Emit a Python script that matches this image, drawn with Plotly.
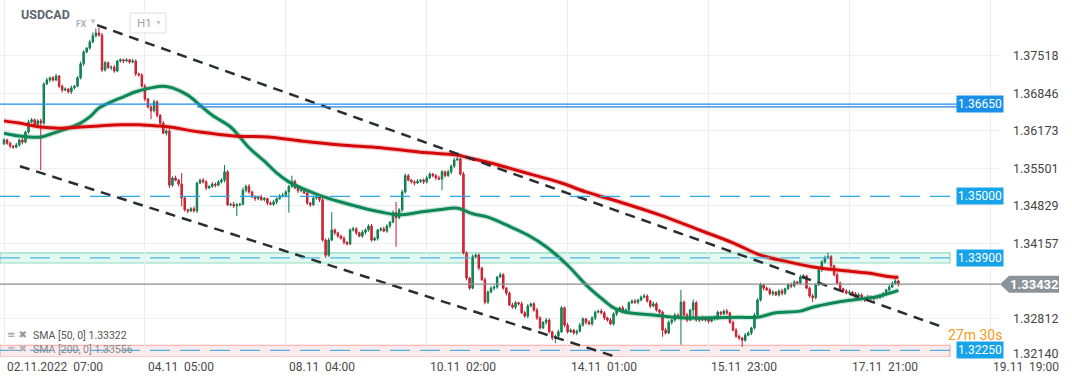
import plotly.graph_objects as go

# ---------------- data ----------------
symbol = "USDCAD"
market = "FX"
timeframe = "H1"

first_open = 1.3594
closes = [
    1.3601, 1.3595, 1.3590, 1.3588, 1.3592, 1.3601, 1.3597, 1.3615, 1.3633, 1.3637,
    1.3628, 1.3635, 1.3631, 1.3701, 1.3708, 1.3712, 1.3708, 1.3715, 1.3697, 1.3690,
    1.3692, 1.3687, 1.3694, 1.3697, 1.3712, 1.3737, 1.3758, 1.3765, 1.3776, 1.3787,
    1.3792, 1.3788, 1.3726, 1.3739, 1.3730, 1.3731, 1.3724, 1.3742, 1.3744, 1.3742,
    1.3744, 1.3740, 1.3742, 1.3719, 1.3717, 1.3697, 1.3674, 1.3660, 1.3653, 1.3669,
    1.3645, 1.3631, 1.3613, 1.3617, 1.3520, 1.3533, 1.3529, 1.3522, 1.3497, 1.3476,
    1.3474, 1.3478, 1.3474, 1.3524, 1.3529, 1.3526, 1.3515, 1.3518, 1.3522, 1.3520,
    1.3526, 1.3529, 1.3544, 1.3485, 1.3486, 1.3483, 1.3485, 1.3486, 1.3511, 1.3518,
    1.3508, 1.3499, 1.3496, 1.3499, 1.3494, 1.3496, 1.3488, 1.3486, 1.3490, 1.3496,
    1.3501, 1.3502, 1.3508, 1.3518, 1.3527, 1.3515, 1.3510, 1.3511, 1.3506, 1.3488,
    1.3485, 1.3497, 1.3499, 1.3494, 1.3422, 1.3395, 1.3422, 1.3440, 1.3435, 1.3429,
    1.3425, 1.3418, 1.3415, 1.3440, 1.3442, 1.3435, 1.3429, 1.3436, 1.3440, 1.3447,
    1.3422, 1.3425, 1.3440, 1.3442, 1.3438, 1.3447, 1.3454, 1.3471, 1.3462, 1.3476,
    1.3508, 1.3537, 1.3529, 1.3526, 1.3524, 1.3527, 1.3529, 1.3526, 1.3533, 1.3540,
    1.3537, 1.3533, 1.3531, 1.3544, 1.3537, 1.3544, 1.3554, 1.3565, 1.3567, 1.3540,
    1.3399, 1.3354, 1.3336, 1.3392, 1.3395, 1.3372, 1.3351, 1.3311, 1.3329, 1.3336,
    1.3338, 1.3356, 1.3360, 1.3336, 1.3327, 1.3306, 1.3302, 1.3310, 1.3308, 1.3292,
    1.3286, 1.3304, 1.3308, 1.3297, 1.3283, 1.3265, 1.3275, 1.3279, 1.3258, 1.3247,
    1.3250, 1.3258, 1.3301, 1.3270, 1.3258, 1.3261, 1.3256, 1.3259, 1.3270, 1.3281,
    1.3275, 1.3272, 1.3283, 1.3293, 1.3295, 1.3292, 1.3283, 1.3279, 1.3272, 1.3290,
    1.3297, 1.3301, 1.3293, 1.3297, 1.3310, 1.3313, 1.3311, 1.3315, 1.3320, 1.3322,
    1.3313, 1.3304, 1.3308, 1.3297, 1.3293, 1.3261, 1.3256, 1.3275, 1.3279, 1.3288,
    1.3283, 1.3311, 1.3288, 1.3279, 1.3297, 1.3310, 1.3279, 1.3283, 1.3279, 1.3283,
    1.3277, 1.3281, 1.3283, 1.3293, 1.3290, 1.3295, 1.3292, 1.3275, 1.3261, 1.3250,
    1.3247, 1.3243, 1.3252, 1.3256, 1.3265, 1.3288, 1.3315, 1.3342, 1.3336, 1.3333,
    1.3326, 1.3329, 1.3324, 1.3331, 1.3327, 1.3335, 1.3342, 1.3340, 1.3347, 1.3345,
    1.3356, 1.3358, 1.3336, 1.3322, 1.3319, 1.3342, 1.3369, 1.3383, 1.3390, 1.3392,
    1.3376, 1.3360, 1.3345, 1.3335, 1.3331, 1.3327, 1.3329, 1.3326, 1.3322, 1.3324,
    1.3319, 1.3315, 1.3320, 1.3317, 1.3320, 1.3319, 1.3322, 1.3326, 1.3333, 1.3338,
    1.3345, 1.3349, 1.3343,
]

# wick lengths beyond the candle body, in pips
wick_up_pips = [
    3, 2, 3, 2, 4, 2, 3, 2, 4, 3,
    2, 3, 4, 3, 4, 2, 3, 4, 2, 3,
    3, 2, 4, 2, 3, 4, 3, 2, 4, 6,
    8, 10, 4, 3, 2, 3, 4, 2, 3, 2,
    3, 2, 4, 3, 2, 3, 4, 2, 3, 4,
    3, 2, 4, 3, 5, 3, 4, 2, 20, 3,
    2, 3, 4, 2, 3, 4, 3, 2, 4, 3,
    3, 4, 12, 3, 2, 4, 3, 2, 5, 3,
    4, 2, 3, 2, 4, 3, 2, 3, 4, 2,
    3, 4, 3, 2, 10, 3, 4, 2, 3, 4,
    2, 3, 4, 3, 5, 3, 4, 32, 3, 2,
    3, 4, 2, 3, 4, 3, 2, 4, 3, 3,
    4, 3, 2, 3, 4, 3, 2, 4, 19, 3,
    4, 4, 3, 2, 3, 4, 2, 3, 4, 3,
    2, 3, 4, 3, 2, 4, 3, 4, 7, 3,
    4, 3, 2, 4, 3, 3, 2, 4, 3, 4,
    3, 2, 4, 3, 2, 3, 4, 3, 2, 4,
    3, 4, 2, 3, 4, 3, 2, 4, 3, 2,
    3, 4, 3, 2, 4, 3, 2, 3, 4, 3,
    2, 4, 3, 3, 2, 4, 3, 2, 4, 3,
    3, 2, 4, 3, 2, 3, 4, 2, 3, 4,
    3, 2, 4, 3, 2, 3, 4, 3, 2, 4,
    3, 22, 3, 4, 2, 6, 3, 2, 4, 3,
    2, 3, 4, 3, 2, 3, 4, 2, 3, 4,
    3, 2, 4, 3, 2, 4, 3, 4, 2, 3,
    4, 3, 2, 3, 4, 2, 3, 4, 3, 2,
    4, 3, 2, 3, 4, 3, 4, 3, 4, 7,
    3, 2, 4, 3, 2, 3, 4, 2, 3, 4,
    3, 2, 4, 3, 2, 3, 4, 3, 2, 4,
    3, 4, 2,
]
wick_dn_pips = [
    2, 3, 4, 3, 2, 3, 4, 2, 3, 2,
    3, 4, 84, 3, 2, 4, 3, 2, 3, 4,
    2, 3, 4, 3, 2, 3, 4, 2, 3, 2,
    3, 2, 4, 3, 2, 4, 3, 2, 3, 4,
    2, 3, 2, 4, 3, 2, 4, 3, 15, 3,
    4, 3, 2, 4, 5, 3, 2, 4, 15, 3,
    4, 2, 3, 4, 2, 3, 4, 2, 3, 4,
    2, 3, 4, 2, 3, 4, 18, 3, 2, 4,
    3, 2, 4, 3, 2, 3, 4, 2, 3, 4,
    2, 3, 4, 37, 3, 2, 4, 3, 2, 3,
    4, 2, 3, 4, 3, 5, 3, 2, 4, 3,
    2, 4, 3, 2, 3, 4, 2, 3, 4, 3,
    3, 2, 4, 3, 2, 3, 4, 2, 52, 3,
    4, 3, 2, 3, 4, 2, 3, 4, 3, 2,
    3, 4, 2, 20, 3, 2, 4, 3, 2, 3,
    3, 4, 3, 2, 3, 4, 2, 4, 3, 2,
    4, 3, 2, 3, 4, 2, 3, 4, 3, 2,
    3, 4, 2, 3, 4, 3, 2, 4, 3, 4,
    9, 3, 2, 4, 3, 2, 3, 4, 2, 3,
    4, 2, 3, 4, 2, 3, 4, 3, 2, 3,
    4, 3, 2, 3, 4, 2, 3, 4, 3, 2,
    3, 4, 2, 3, 4, 12, 3, 2, 4, 3,
    2, 48, 3, 4, 2, 15, 3, 4, 2, 3,
    4, 2, 3, 4, 3, 2, 4, 3, 2, 3,
    4, 12, 3, 2, 4, 3, 2, 3, 4, 2,
    3, 4, 2, 3, 4, 3, 2, 4, 3, 2,
    3, 4, 2, 3, 8, 3, 2, 4, 3, 2,
    4, 3, 2, 3, 4, 2, 3, 4, 3, 2,
    3, 4, 2, 3, 4, 3, 2, 3, 4, 3,
    2, 3, 4,
]
pip = 0.0001

# moving averages (bar index, value)
sma50_idx = [0, 5, 12, 15, 21, 25, 28, 31, 35, 39, 43, 48, 52, 55, 60, 64, 68, 74, 77, 80,
             85, 89, 93, 98, 103, 110, 116, 123, 129, 136, 142, 148, 153, 158, 164, 171,
             177, 184, 190, 195, 199, 203, 212, 221, 231, 240, 246, 252, 260, 264, 271,
             277, 284, 289, 292]
sma50_val = [1.3613, 1.3608, 1.3606, 1.3611, 1.3622, 1.3631, 1.3642, 1.3658, 1.3669, 1.3678,
             1.3687, 1.3694, 1.3697, 1.3694, 1.3681, 1.3663, 1.3645, 1.3624, 1.3606, 1.3587,
             1.3563, 1.3542, 1.3526, 1.3513, 1.3502, 1.3490, 1.3481, 1.3472, 1.3467, 1.3472,
             1.3476, 1.3479, 1.3469, 1.3463, 1.3449, 1.3431, 1.3410, 1.3377, 1.3342, 1.3318,
             1.3301, 1.3293, 1.3288, 1.3283, 1.3283, 1.3284, 1.3284, 1.3292, 1.3295, 1.3302,
             1.3310, 1.3315, 1.3320, 1.3327, 1.33322]
sma200_idx = [0, 5, 12, 18, 25, 31, 38, 44, 50, 54, 64, 75, 86, 97, 110, 123, 136, 148, 151,
              158, 164, 173, 182, 190, 201, 214, 227, 238, 247, 256, 264, 273, 282, 290, 292]
sma200_val = [1.3635, 1.3631, 1.3624, 1.3622, 1.3624, 1.3626, 1.3628, 1.3628, 1.3626, 1.3624,
              1.3615, 1.3608, 1.3606, 1.3599, 1.3592, 1.3587, 1.3579, 1.3574, 1.3570, 1.3561,
              1.3552, 1.3538, 1.3524, 1.3508, 1.3490, 1.3467, 1.3440, 1.3417, 1.3395, 1.3383,
              1.3374, 1.3368, 1.3363, 1.3356, 1.33556]

# drawn channel lines (bar index, price)
upper_channel_idx = [30.4, 307.2]
upper_channel_val = [1.3806, 1.3265]
lower_channel_idx = [5.2, 201.1]
lower_channel_val = [1.3554, 1.3211]

# time axis
time_tick_idx = [0, 46, 92, 138, 184, 230, 276, 322]
time_tick_text = ["02.11.2022  07:00", "04.11  05:00", "08.11  04:00", "10.11  02:00",
                  "14.11  01:00", "15.11  23:00", "17.11  21:00", "19.11  19:00"]

# price axis
price_tick_vals = [1.37518, 1.36846, 1.36173, 1.35501, 1.34829, 1.34157, 1.32812, 1.32140]

# horizontal levels
level_main = 1.36650
level_main_2 = 1.36600
level_1350 = 1.35000
level_1339 = 1.33900
band_1339 = [1.3381, 1.3399]
level_13225 = 1.32250
band_13225 = [1.3213, 1.3234]
last_price = 1.33432
sma50_last = 1.33322
sma200_last = 1.33556
countdown = "27m 30s"

# ---------------- figure ----------------
Y_MIN, Y_MAX = 1.3213, 1.3851
X_MIN, X_MAX = -1.306, 325.17
PLOT_W, PLOT_H = 1000, 357

n = len(closes)
idx = list(range(n))
opens = [first_open] + closes[:-1]
highs = [max(o, c) + u * pip for o, c, u in zip(opens, closes, wick_up_pips)]
lows = [min(o, c) - d * pip for o, c, d in zip(opens, closes, wick_dn_pips)]

FONT = "Roboto, 'Open Sans', Arial, sans-serif"


def px_x(p):
    return p / PLOT_W


def px_y(p):
    return (PLOT_H - p) / PLOT_H


def val_y(v):
    return (v - Y_MIN) / (Y_MAX - Y_MIN)


fig = go.Figure()

fig.add_trace(go.Candlestick(
    x=idx, open=opens, high=highs, low=lows, close=closes,
    increasing=dict(line=dict(color="#0b7a4a", width=1), fillcolor="#17985f"),
    decreasing=dict(line=dict(color="#c41d2e", width=1), fillcolor="#e3303f"),
    whiskerwidth=0, hoverinfo="skip", showlegend=False,
))

# SMA 50 (green) with halo
fig.add_trace(go.Scatter(x=sma50_idx, y=sma50_val, mode="lines", line_shape="spline",
                         line=dict(color="rgba(20,140,90,0.22)", width=5.5),
                         hoverinfo="skip", showlegend=False))
fig.add_trace(go.Scatter(x=sma50_idx, y=sma50_val, mode="lines", line_shape="spline",
                         line=dict(color="#0c8755", width=3),
                         hoverinfo="skip", showlegend=False))
# SMA 200 (red) with halo
fig.add_trace(go.Scatter(x=sma200_idx, y=sma200_val, mode="lines", line_shape="spline",
                         line=dict(color="rgba(225,70,70,0.28)", width=5.5),
                         hoverinfo="skip", showlegend=False))
fig.add_trace(go.Scatter(x=sma200_idx, y=sma200_val, mode="lines", line_shape="spline",
                         line=dict(color="#d40808", width=3),
                         hoverinfo="skip", showlegend=False))

# channel lines
for xs, ys in [(upper_channel_idx, upper_channel_val), (lower_channel_idx, lower_channel_val)]:
    fig.add_trace(go.Scatter(x=xs, y=ys, mode="lines",
                             line=dict(color="#2a2e33", width=2.5, dash="10px,7px"),
                             hoverinfo="skip", showlegend=False))

shapes = []
# bands
shapes.append(dict(type="rect", xref="paper", yref="y", x0=0, x1=0.950,
                   y0=band_1339[0], y1=band_1339[1], fillcolor="rgba(190,240,222,0.45)",
                   line=dict(color="#8fdcbf", width=1.2), layer="below"))
shapes.append(dict(type="rect", xref="paper", yref="y", x0=0, x1=0.950,
                   y0=band_13225[0], y1=band_13225[1], fillcolor="rgba(252,222,222,0.6)",
                   line=dict(color="#f2a9a9", width=1.2), layer="below"))
# level lines
shapes.append(dict(type="line", xref="paper", yref="y", x0=0, x1=0.957,
                   y0=level_main, y1=level_main, line=dict(color="#1c8cf0", width=1.4)))
shapes.append(dict(type="line", xref="paper", yref="y", x0=0.197, x1=0.957,
                   y0=level_main_2, y1=level_main_2, line=dict(color="#2f7fd6", width=1.4)))
shapes.append(dict(type="line", xref="paper", yref="y", x0=0, x1=0.957,
                   y0=level_1350, y1=level_1350,
                   line=dict(color="#2ba6e8", width=1.3, dash="20px,10px")))
shapes.append(dict(type="line", xref="paper", yref="y", x0=0, x1=0.957,
                   y0=level_1339, y1=level_1339,
                   line=dict(color="#4fb6ea", width=1.3, dash="20px,10px")))
shapes.append(dict(type="line", xref="paper", yref="y", x0=0, x1=0.957,
                   y0=level_13225, y1=level_13225,
                   line=dict(color="#4fb0e8", width=1.3, dash="20px,10px")))
# last price line
shapes.append(dict(type="line", xref="paper", yref="y", x0=0, x1=1.0,
                   y0=last_price, y1=last_price, line=dict(color="#8c8c8c", width=1.3)))
# last price tag (arrow shaped)
ty = val_y(last_price)
hh = 8.5 / PLOT_H
shapes.append(dict(type="path", xref="paper", yref="paper",
                   path=(f"M {px_x(1000)} {ty} L {px_x(1009)} {ty + hh} L {px_x(1059)} {ty + hh} "
                         f"L {px_x(1059)} {ty - hh} L {px_x(1009)} {ty - hh} Z"),
                   fillcolor="#8b9398", line=dict(width=0)))
# H1 box
shapes.append(dict(type="rect", xref="paper", yref="paper", x0=px_x(130), x1=px_x(166),
                   y0=px_y(33), y1=px_y(13), fillcolor="white",
                   line=dict(color="#dedede", width=1)))

annotations = []
# time axis labels
for ti, tt in zip(time_tick_idx, time_tick_text):
    annotations.append(dict(x=ti + 0.3, xref="x", y=px_y(367), yref="paper", xanchor="left",
                            yanchor="middle", text=tt.replace(" ", "\u00a0"), showarrow=False,
                            font=dict(family=FONT, size=12, color="#4a4a4a")))
# price axis labels
for pv in price_tick_vals:
    annotations.append(dict(x=px_x(1011), xref="paper", y=pv, yref="y", xanchor="left",
                            yanchor="middle", text=f"{pv:.5f}", showarrow=False,
                            yshift=(3 if pv < 1.3220 else 0),
                            font=dict(family=FONT, size=12.5, color="#444444")))


def tag(value, text, color):
    return dict(x=px_x(980), xref="paper", y=value, yref="y", text=text, showarrow=False,
                xanchor="center", yanchor="middle", bgcolor=color, borderpad=1,
                font=dict(family=FONT, size=12, color="white"))


annotations.append(tag(level_main, f"{level_main:.5f}", "#1a8fe8"))
annotations.append(tag(level_1350, f"{level_1350:.5f}", "#16a3ea"))
annotations.append(tag(level_1339, f"{level_1339:.5f}", "#16a3ea"))
annotations.append(tag(level_13225, f"{level_13225:.5f}", "#16a3ea"))
annotations.append(dict(x=px_x(1034), xref="paper", y=ty, yref="paper",
                        text=f"<b>{last_price:.5f}</b>", showarrow=False, xanchor="center",
                        yanchor="middle", font=dict(family=FONT, size=13, color="white")))
# header
annotations.append(dict(x=px_x(19), xref="paper", y=px_y(15), yref="paper", text=f"<b>{symbol}</b>",
                        showarrow=False, xanchor="left", yanchor="middle",
                        font=dict(family=FONT, size=12.5, color="#5b6670")))
annotations.append(dict(x=px_x(74), xref="paper", y=px_y(24), yref="paper", text=f"<b>{market}</b>",
                        showarrow=False, xanchor="left", yanchor="middle",
                        font=dict(family=FONT, size=8.5, color="#a9b2ba")))
annotations.append(dict(x=px_x(93), xref="paper", y=px_y(21), yref="paper", text="▼",
                        showarrow=False, xanchor="center", yanchor="middle",
                        font=dict(family=FONT, size=8, color="#bfc4c8")))
annotations.append(dict(x=px_x(135), xref="paper", y=px_y(23), yref="paper", text=timeframe,
                        showarrow=False, xanchor="left", yanchor="middle",
                        font=dict(family=FONT, size=11.5, color="#9aa3ab")))
annotations.append(dict(x=px_x(158), xref="paper", y=px_y(23), yref="paper", text="▼",
                        showarrow=False, xanchor="center", yanchor="middle",
                        font=dict(family=FONT, size=7, color="#c2c7cb")))
# indicator legend
annotations.append(dict(x=px_x(5), xref="paper", y=px_y(334), yref="paper", text="≡ ✖",
                        showarrow=False, xanchor="left", yanchor="middle",
                        font=dict(family="DejaVu Sans", size=10, color="#9a9a9a")))
annotations.append(dict(x=px_x(31), xref="paper", y=px_y(335), yref="paper",
                        text=f"SMA [50, 0] {sma50_last:.5f}", showarrow=False, xanchor="left",
                        yanchor="middle", font=dict(family=FONT, size=10.5, color="#555555")))
annotations.append(dict(x=px_x(5), xref="paper", y=px_y(348), yref="paper", text="≡ ✖",
                        showarrow=False, xanchor="left", yanchor="middle",
                        font=dict(family="DejaVu Sans", size=10, color="#b0b0b0")))
annotations.append(dict(x=px_x(31), xref="paper", y=px_y(349), yref="paper",
                        text=f"SMA [200, 0] {sma200_last:.5f}", showarrow=False, xanchor="left",
                        yanchor="middle", font=dict(family=FONT, size=10.5, color="#8a8a8a")))
# countdown
annotations.append(dict(x=px_x(975), xref="paper", y=px_y(335), yref="paper", text=countdown,
                        showarrow=False, xanchor="center", yanchor="middle",
                        font=dict(family=FONT, size=14, color="#f39a1b")))

fig.update_layout(
    width=1072, height=382,
    margin=dict(l=0, r=72, t=0, b=25),
    paper_bgcolor="white", plot_bgcolor="white",
    showlegend=False,
    shapes=shapes,
    annotations=annotations,
    font=dict(family=FONT),
    xaxis=dict(range=[X_MIN, X_MAX], tickvals=time_tick_idx, showticklabels=False,
               showgrid=True, gridcolor="#ededed", gridwidth=1, zeroline=False,
               rangeslider=dict(visible=False), showline=False, fixedrange=True),
    yaxis=dict(range=[Y_MIN, Y_MAX], side="right", tickvals=price_tick_vals,
               showticklabels=False,
               showgrid=True, gridcolor="#efefef", gridwidth=1, zeroline=False,
               showline=False, fixedrange=True),
)

fig.write_html("out.html", config={"displayModeBar": False},
               post_script="document.body.style.margin='0';document.body.style.overflow='hidden';")
